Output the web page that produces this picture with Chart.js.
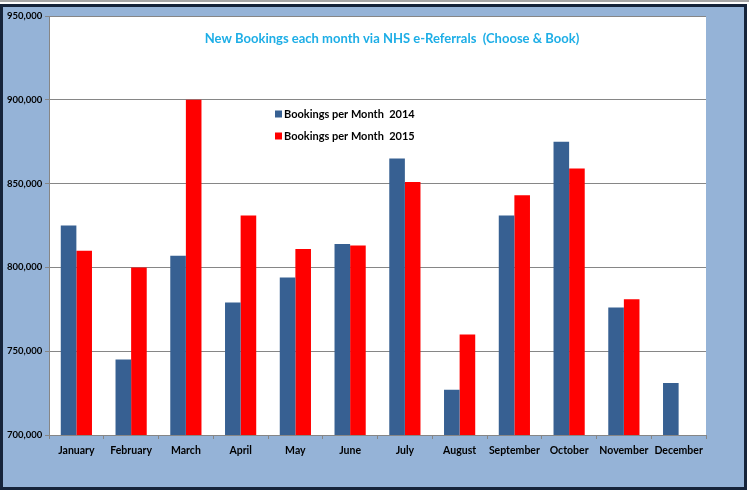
<!DOCTYPE html>
<html>
<head>
<meta charset="utf-8">
<script src="https://cdn.jsdelivr.net/npm/chart.js@4.4.1/dist/chart.umd.min.js"></script>
<style>
  body { margin: 0; background: #ffffff; }
  #topline { position: absolute; left: 0; top: 0; width: 749px; height: 2px; background: #a6a6a6; }
  #frame {
    position: absolute; left: 0; top: 4px; width: 747px; height: 486px;
    box-sizing: border-box; border: 3px solid #16243a; background: #95b3d7;
  }
  #chartjs-1 { position: absolute; left: 0; top: 0; }
</style>
</head>
<body>
<div id="topline"></div>
<div id="frame"></div>
<canvas id="chartjs-1" width="749" height="491"></canvas>
<script>
// Data
const months = ["January", "February", "March", "April", "May", "June", "July", "August", "September", "October", "November", "December"];
const bookings2014 = [825000, 745000, 807000, 779000, 794000, 814000, 865000, 727000, 831000, 875000, 776000, 731000];
const bookings2015 = [810000, 800000, 900000, 831000, 811000, 813000, 851000, 760000, 843000, 859000, 781000, null];
const yTicks = [700000, 750000, 800000, 850000, 900000, 950000];
const chartTitle = "New Bookings each month via NHS e-Referrals  (Choose & Book)";

// white plot area + title + legend inside the plot
const plotBits = {
  id: "plotBits",
  beforeDraw: (chart) => {
    const a = chart.chartArea;
    const ctx = chart.ctx;
    ctx.save();
    ctx.fillStyle = "#ffffff";
    ctx.fillRect(a.left, a.top, a.right - a.left, a.bottom - a.top);
    ctx.restore();
  },
  afterDraw: (chart) => {
    const ctx = chart.ctx;
    ctx.save();
    ctx.font = "bold 13px Lato";
    ctx.fillStyle = "#1eaee6";
    ctx.textAlign = "center";
    ctx.textBaseline = "middle";
    ctx.fillText(chartTitle, 392, 39);

    ctx.font = "bold 11px Lato";
    ctx.textAlign = "left";
    chart.data.datasets.forEach((ds, i) => {
      let y = 114 + i * 22;
      ctx.fillStyle = ds.backgroundColor;
      ctx.fillRect(275, y - 3.5, 7, 7);
      ctx.fillStyle = "#000000";
      ctx.fillText(ds.label, 284, y);
    });
    ctx.restore();
  },
};

const myBarChart = new Chart(document.getElementById("chartjs-1"), {
  type: "bar",
  data: {
    labels: months,
    datasets: [
      {
        label: "Bookings per Month  2014",
        backgroundColor: "#376092",
        data: bookings2014,
      },
      {
        label: "Bookings per Month  2015",
        backgroundColor: "#ff0000",
        data: bookings2015,
      },
    ],
  },
  options: {
    responsive: false,
    animation: false,
    categoryPercentage: 0.57,
    barPercentage: 1.0,
    layout: {
      padding: { left: 7, right: 43, top: 16, bottom: 0 },
    },
    plugins: {
      legend: { display: false },
      tooltip: { enabled: false },
    },
    scales: {
      x: {
        afterFit: (s) => {
          s.height = 56;
        },
        ticks: {
          color: "#000000",
          font: { family: "Lato", size: 10.5, weight: "bold" },
          padding: 5,
          maxRotation: 0,
        },
        grid: {
          offset: true,
          drawOnChartArea: false,
          tickLength: 4,
          color: "#868686",
        },
        border: { color: "#868686" },
      },
      y: {
        min: 700000,
        max: 950000,
        afterFit: (s) => {
          s.width = 42;
        },
        afterBuildTicks: (s) => {
          s.ticks = yTicks.map((v) => ({ value: v }));
        },
        ticks: {
          crossAlign: "far",
          color: "#000000",
          font: { family: "Lato", size: 9.5, weight: "bold" },
          callback: function (value) {
            return value.toLocaleString("en-US");
          },
        },
        grid: {
          color: "#868686",
          tickLength: 4,
        },
        border: { color: "#868686" },
      },
    },
  },
  plugins: [plotBits],
});
</script>
</body>
</html>
